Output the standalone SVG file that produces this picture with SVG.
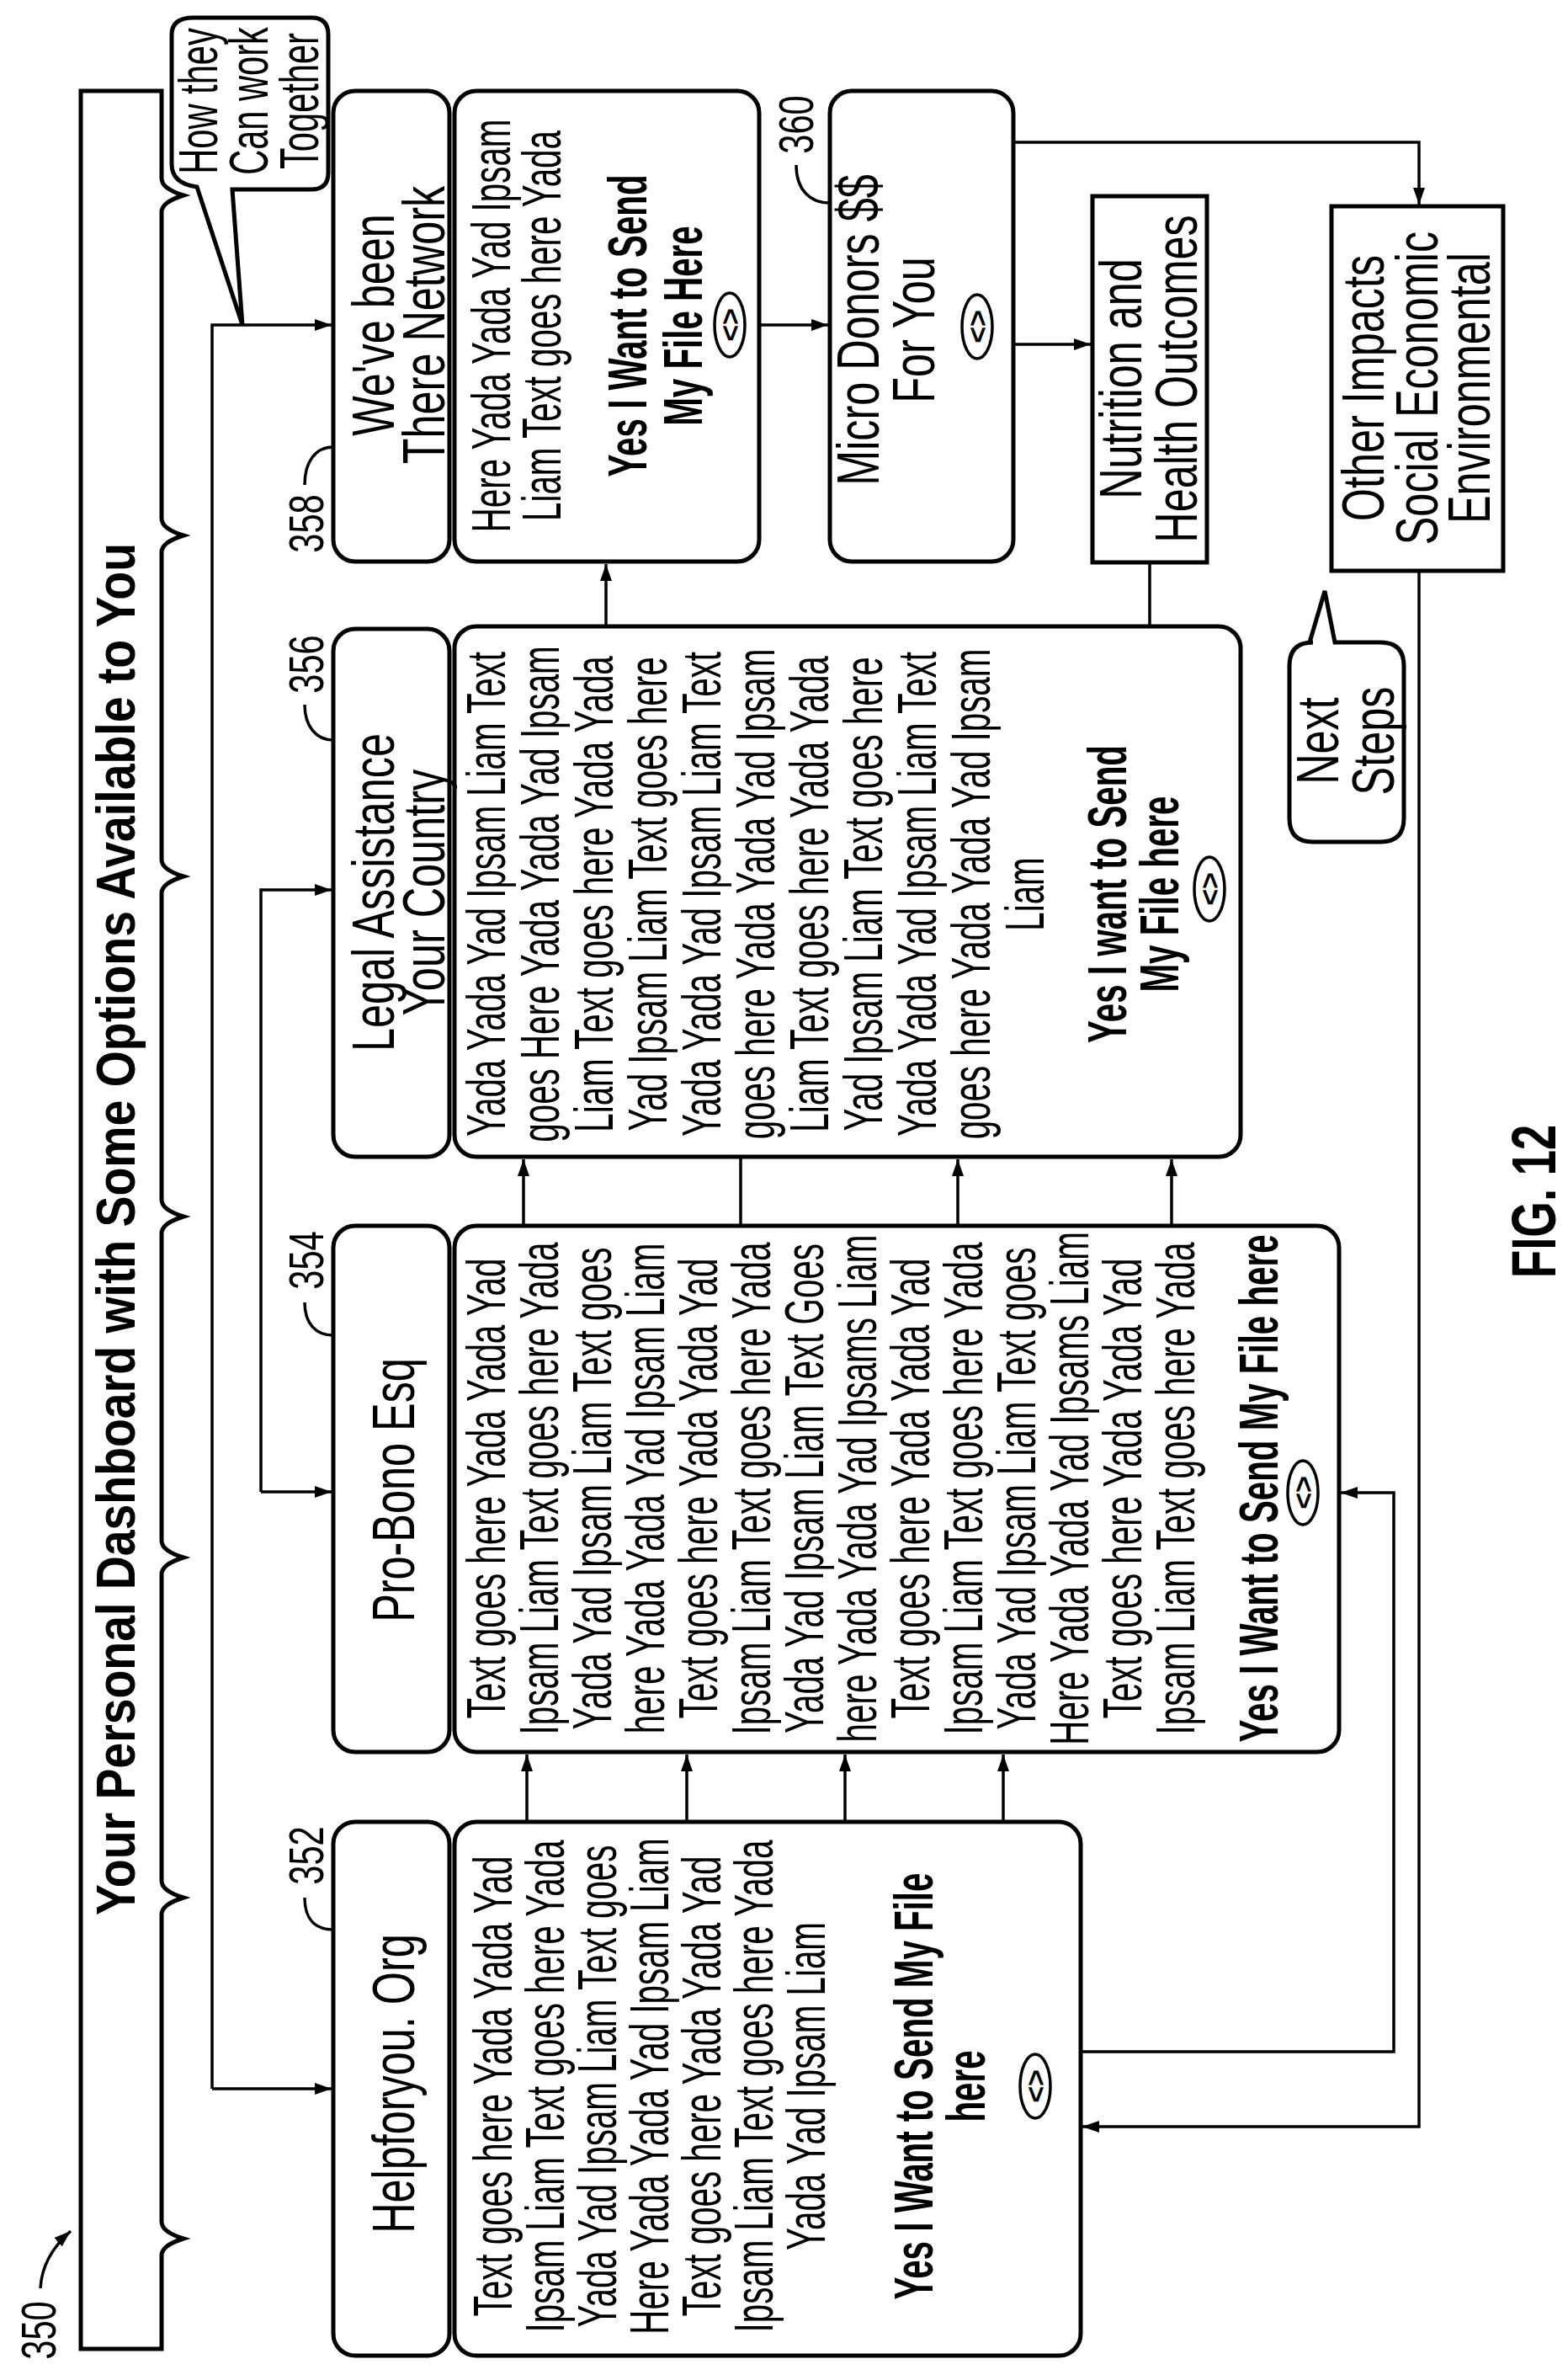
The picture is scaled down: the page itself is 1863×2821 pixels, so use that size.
<svg xmlns="http://www.w3.org/2000/svg" width="1863" height="2821" viewBox="0 0 1863 2821">
<style>
.bx{fill:none;stroke:#000;stroke-width:5}
.ln{fill:none;stroke:#000;stroke-width:3.5}
.t{font-family:"Liberation Sans",Arial,sans-serif;font-size:64px;text-anchor:middle;fill:#000}
.h{font-size:70px}
.b{font-weight:bold}
.n{font-size:58px}
</style>
<defs>
<marker id="ar" viewBox="0 0 20 14" refX="20" refY="7" markerWidth="20" markerHeight="14" markerUnits="userSpaceOnUse" orient="auto"><path d="M0,0 L20,7 L0,14 Z" fill="#000"/></marker>
</defs>
<rect width="1863" height="2821" fill="#fff"/>

<g id="panel">
<path class="bx" d="M192,108 H96 V2790 H192 V2679 Q192,2667 218,2659 Q192,2651 192,2639 V2274 Q192,2262 218,2254 Q192,2246 192,2234 V1870 Q192,1858 218,1850 Q192,1842 192,1830 V1465 Q192,1453 218,1445 Q192,1437 192,1425 V1061 Q192,1049 218,1041 Q192,1033 192,1021 V656 Q192,644 218,636 Q192,628 192,616 V252 Q192,240 218,232 Q192,224 192,212 Z"/>
<text class="t b" transform="translate(160,1460) rotate(-90)" textLength="1630" lengthAdjust="spacingAndGlyphs">Your Personal Dashboard with Some Options Available to You</text>
<text class="t n" transform="translate(66,2768) rotate(-90) scale(0.72,1)">350</text>
<path class="ln" d="M48,2718 Q50,2680 84,2650" marker-end="url(#ar)"/>
</g>

<g id="callout-how">
<path class="bx" d="M230,21 H370 Q390,21 390,41 V205 Q390,225 370,225 H276 L288,386 L234,222 Q204,218 204,195 V41 Q204,21 230,21 Z"/>
<text class="t" transform="translate(258,120) rotate(-90) scale(0.65,1)"><tspan x="0" y="0">How they</tspan><tspan x="0" y="60">Can work</tspan><tspan x="0" y="120">Together</tspan></text>
</g>

<g id="node-352">
<rect class="bx" x="396" y="2164" width="138" height="634" rx="26"/>
<text class="t h" transform="translate(492,2475) rotate(-90) scale(0.72,1)">Helpforyou. Org</text>
<rect class="bx" x="540" y="2164" width="744" height="634" rx="26"/>
<text class="t" transform="translate(608,2478) rotate(-90) scale(0.63,1)"><tspan x="0" y="0">Text goes here Yada Yada Yad</tspan><tspan x="0" y="62">Ipsam Liam Text goes here Yada</tspan><tspan x="0" y="124">Yada Yad Ipsam Liam Text goes</tspan><tspan x="0" y="186">Here Yada Yada Yad Ipsam Liam</tspan><tspan x="0" y="248">Text goes here Yada Yada Yad</tspan><tspan x="0" y="310">Ipsam Liam Text goes here Yada</tspan><tspan x="0" y="372">Yada Yad Ipsam Liam</tspan><tspan class="b" x="0" y="500">Yes I Want to Send My File</tspan><tspan class="b" x="0" y="562">here</tspan></text>
<ellipse class="ln" cx="1230" cy="2478" rx="18" ry="38"/>
<text class="t b" style="font-size:34px" transform="translate(1242,2478) rotate(-90)">&lt;&gt;</text>
<text class="t n" transform="translate(384,2204) rotate(-90) scale(0.72,1)">352</text>
<path class="ln" d="M362,2254 C362,2280 375,2292 396,2292"/>
</g>

<g id="node-354">
<rect class="bx" x="396" y="1456" width="138" height="625" rx="26"/>
<text class="t h" transform="translate(492,1770) rotate(-90) scale(0.72,1)">Pro-Bono Esq</text>
<rect class="bx" x="540" y="1456" width="1051" height="625" rx="26"/>
<text class="t" transform="translate(600,1768) rotate(-90) scale(0.63,1)"><tspan x="0" y="0">Text goes here Yada Yada Yad</tspan><tspan x="0" y="63">Ipsam Liam Text goes here Yada</tspan><tspan x="0" y="126">Yada Yad Ipsam Liam Text goes</tspan><tspan x="0" y="189">here Yada Yada Yad Ipsam Liam</tspan><tspan x="0" y="252">Text goes here Yada Yada Yad</tspan><tspan x="0" y="315">Ipsam Liam Text goes here Yada</tspan><tspan x="0" y="378">Yada Yad Ipsam Liam Text Goes</tspan><tspan x="0" y="441">here Yada Yada Yad Ipsams Liam</tspan><tspan x="0" y="504">Text goes here Yada Yada Yad</tspan><tspan x="0" y="567">Ipsam Liam Text goes here Yada</tspan><tspan x="0" y="630">Yada Yad Ipsam Liam Text goes</tspan><tspan x="0" y="693">Here Yada Yada Yad Ipsams Liam</tspan><tspan x="0" y="756">Text goes here Yada Yada Yad</tspan><tspan x="0" y="819">Ipsam Liam Text goes here Yada</tspan><tspan class="b" x="0" y="918">Yes I Want to Send My File here</tspan></text>
<ellipse class="ln" cx="1548" cy="1773" rx="18" ry="38"/>
<text class="t b" style="font-size:34px" transform="translate(1560,1773) rotate(-90)">&lt;&gt;</text>
<text class="t n" transform="translate(384,1497) rotate(-90) scale(0.72,1)">354</text>
<path class="ln" d="M362,1547 C362,1572 375,1586 396,1586"/>
</g>

<g id="node-356">
<rect class="bx" x="396" y="747" width="138" height="627" rx="26"/>
<text class="t h" transform="translate(468,1060) rotate(-90) scale(0.72,1)"><tspan x="0" y="0">Legal Assistance</tspan><tspan x="0" y="60">Your Country</tspan></text>
<rect class="bx" x="540" y="744" width="934" height="630" rx="26"/>
<text class="t" transform="translate(600,1062) rotate(-90) scale(0.63,1)"><tspan x="0" y="0">Yada Yada Yad Ipsam Liam Text</tspan><tspan x="0" y="64">goes Here Yada Yada Yad Ipsam</tspan><tspan x="0" y="128">Liam Text goes here Yada Yada</tspan><tspan x="0" y="192">Yad Ipsam Liam Text goes here</tspan><tspan x="0" y="256">Yada Yada Yad Ipsam Liam Text</tspan><tspan x="0" y="320">goes here Yada Yada Yad Ipsam</tspan><tspan x="0" y="384">Liam Text goes here Yada Yada</tspan><tspan x="0" y="448">Yad Ipsam Liam Text goes here</tspan><tspan x="0" y="512">Yada Yada Yad Ipsam Liam Text</tspan><tspan x="0" y="576">goes here Yada Yada Yad Ipsam</tspan><tspan x="0" y="640">Liam</tspan><tspan class="b" x="0" y="738">Yes I want to Send</tspan><tspan class="b" x="0" y="800">My File here</tspan></text>
<ellipse class="ln" cx="1437" cy="1056" rx="18" ry="38"/>
<text class="t b" style="font-size:34px" transform="translate(1449,1056) rotate(-90)">&lt;&gt;</text>
<text class="t n" transform="translate(384,789) rotate(-90) scale(0.72,1)">356</text>
<path class="ln" d="M362,837 C362,862 375,879 396,879"/>
</g>

<g id="node-358">
<rect class="bx" x="396" y="108" width="138" height="559" rx="26"/>
<text class="t h" transform="translate(468,386) rotate(-90) scale(0.72,1)"><tspan x="0" y="0">We've been</tspan><tspan x="0" y="60">There Network</tspan></text>
<rect class="bx" x="540" y="108" width="362" height="559" rx="26"/>
<text class="t" transform="translate(606,387) rotate(-90) scale(0.63,1)"><tspan x="0" y="0">Here Yada Yada Yad Ipsam</tspan><tspan x="0" y="60">Liam Text goes here Yada</tspan><tspan class="b" x="0" y="162">Yes I Want to Send</tspan><tspan class="b" x="0" y="228">My File Here</tspan></text>
<ellipse class="ln" cx="867" cy="386" rx="18" ry="38"/>
<text class="t b" style="font-size:34px" transform="translate(879,386) rotate(-90)">&lt;&gt;</text>
<text class="t n" transform="translate(384,622) rotate(-90) scale(0.72,1)">358</text>
<path class="ln" d="M362,576 C362,548 375,531 396,531"/>
</g>

<g id="node-360">
<rect class="bx" x="986" y="108" width="218" height="559" rx="26"/>
<text class="t h" transform="translate(1044,392) rotate(-90) scale(0.72,1)"><tspan x="0" y="0">Micro Donors $$</tspan><tspan x="0" y="66">For You</tspan></text>
<ellipse class="ln" cx="1161" cy="388" rx="18" ry="38"/>
<text class="t b" style="font-size:34px" transform="translate(1173,388) rotate(-90)">&lt;&gt;</text>
<text class="t n" transform="translate(966,148) rotate(-90) scale(0.72,1)">360</text>
<path class="ln" d="M946,196 C946,225 962,241 986,241"/>
</g>

<g id="node-nutrition">
<rect class="bx" x="1298" y="233" width="136" height="435"/>
<text class="t h" transform="translate(1356,450) rotate(-90) scale(0.72,1)"><tspan x="0" y="0">Nutrition and</tspan><tspan x="0" y="66">Health Outcomes</tspan></text>
</g>

<g id="node-other">
<rect class="bx" x="1582" y="245" width="204" height="433"/>
<text class="t h" transform="translate(1644,461) rotate(-90) scale(0.72,1)"><tspan x="0" y="0">Other Impacts</tspan><tspan x="0" y="64">Social Economic</tspan><tspan x="0" y="126">Environmental</tspan></text>
</g>

<g id="callout-next">
<path class="bx" d="M1586,763 H1640 Q1668,763 1668,791 V972 Q1668,1000 1640,1000 H1560 Q1532,1000 1532,972 V791 Q1532,763 1560,763 H1556 L1574,702 Z"/>
<text class="t h" transform="translate(1590,880) rotate(-90) scale(0.72,1)"><tspan x="0" y="0">Next</tspan><tspan x="0" y="66">Steps</tspan></text>
</g>

<g id="connectors">
<path class="ln" d="M252,2481 V386 H394" marker-end="url(#ar)"/>
<path class="ln" d="M252,2481 H394" marker-end="url(#ar)"/>
<path class="ln" d="M310,1772 V1057 H394" marker-end="url(#ar)"/>
<path class="ln" d="M310,1772 H394" marker-end="url(#ar)"/>
<path class="ln" d="M902,386 H984" marker-end="url(#ar)"/>
<path class="ln" d="M1204,409 H1296" marker-end="url(#ar)"/>
<path class="ln" d="M1204,169 H1686 V243" marker-end="url(#ar)"/>
<path class="ln" d="M1686,678 V2526 H1286" marker-end="url(#ar)"/>
<path class="ln" d="M1284,2437 H1656 V1773 H1593" marker-end="url(#ar)"/>
<path class="ln" d="M1366,668 V744"/>
<path class="ln" d="M720,744 V670" marker-end="url(#ar)"/>
<path class="ln" d="M622,1456 V1377" marker-end="url(#ar)"/>
<path class="ln" d="M880,1456 V1374"/>
<path class="ln" d="M1138,1456 V1377" marker-end="url(#ar)"/>
<path class="ln" d="M1392,1456 V1377" marker-end="url(#ar)"/>
<path class="ln" d="M626,2164 V2084" marker-end="url(#ar)"/>
<path class="ln" d="M816,2164 V2084" marker-end="url(#ar)"/>
<path class="ln" d="M1004,2164 V2084" marker-end="url(#ar)"/>
<path class="ln" d="M1192,2164 V2084" marker-end="url(#ar)"/>
</g>

<text class="t b" style="font-size:75px" transform="translate(1848,1427) rotate(-90) scale(0.73,1)">FIG. 12</text>
</svg>
